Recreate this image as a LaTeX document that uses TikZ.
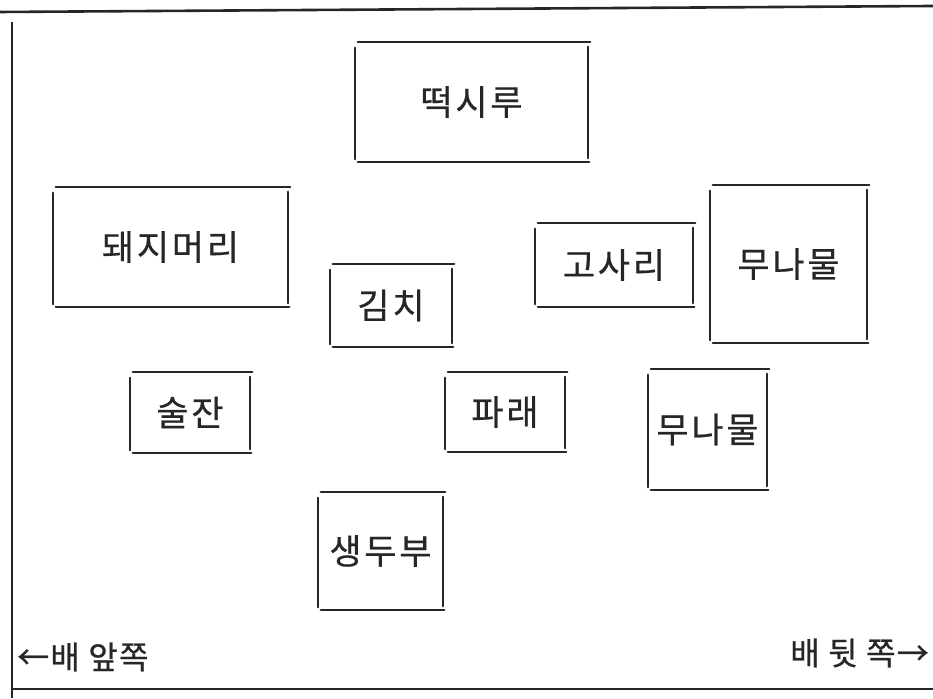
\documentclass[tikz,border=0pt]{standalone}
\usepackage{fontspec}
\newfontfamily\kr[LetterSpace=8,FakeBold=0.6]{Noto Sans CJK KR}
\newfontfamily\krlab[LetterSpace=4,FakeBold=0.6]{Noto Sans CJK KR}
\definecolor{ink}{HTML}{262626}
\tikzset{
  edge/.style={draw=ink, line width=2.4pt, line cap=round},
  frame/.style={draw=ink, line width=2.6pt},
  dish/.style={inner sep=0pt, text=ink, font=\kr\fontsize{35}{38}\selectfont},
  label/.style={inner sep=0pt, text=ink, font=\krlab\fontsize{32}{35}\selectfont},
}
\newcommand\handsides[1]{%
  \draw[edge] ([xshift=3]#1.north west) -- ([xshift=2]#1.north east);
  \draw[edge] ([xshift=3]#1.south west) -- ([xshift=1]#1.south east);
  \draw[edge] ([yshift=-6]#1.north west) -- ([yshift=3]#1.south west);
  \draw[edge] ([yshift=-5]#1.north east) -- ([yshift=4]#1.south east);
}
\begin{document}
\begin{tikzpicture}[x=1pt,y=1pt]
\useasboundingbox (0,0) rectangle (933,698);
% frame
\coordinate (ftl) at (0,686);
\coordinate (ftr) at (933,692);
\coordinate (flt) at (12,676);
\coordinate (flb) at (12,0);
\coordinate (fbl) at (12,9);
\coordinate (fbr) at (933,9);
\draw[frame] (ftl) -- (ftr);
\draw[frame] (flt) -- (flb);
\draw[frame] (fbl) -- (fbr);
% boxes: center x=(l+r)/2, y=698-(t+b)/2
\node[dish, minimum width=233, minimum height=120] (tteok) at (471.5,596) {떡시루};
\node[dish, minimum width=235, minimum height=120] (dwaeji) at (170.5,451) {돼지머리};
\node[dish, minimum width=122, minimum height=83] (kimchi) at (391,392.5) {김치};
\node[dish, minimum width=158, minimum height=84] (gosari) at (614,433) {고사리};
\node[dish, minimum width=157, minimum height=158] (munamul1) at (788.5,434) {무나물};
\node[dish, minimum width=120, minimum height=81] (suljan) at (190,285.5) {술잔};
\node[dish, minimum width=120, minimum height=80] (parae) at (505,286) {파래};
\node[dish, minimum width=119, minimum height=121] (munamul2) at (707.5,268.5) {무나물};
\node[dish, minimum width=125, minimum height=118] (dubu) at (380.5,147) {생두부};
\foreach \b in {tteok,dwaeji,kimchi,gosari,munamul1,suljan,parae,munamul2,dubu}{\handsides{\b}}
% direction labels
\node[label, anchor=west] (front) at (17,41) {←배 앞쪽};
\node[label, anchor=east] (back) at (929,45) {배 뒷 쪽→};
\end{tikzpicture}
\end{document}
